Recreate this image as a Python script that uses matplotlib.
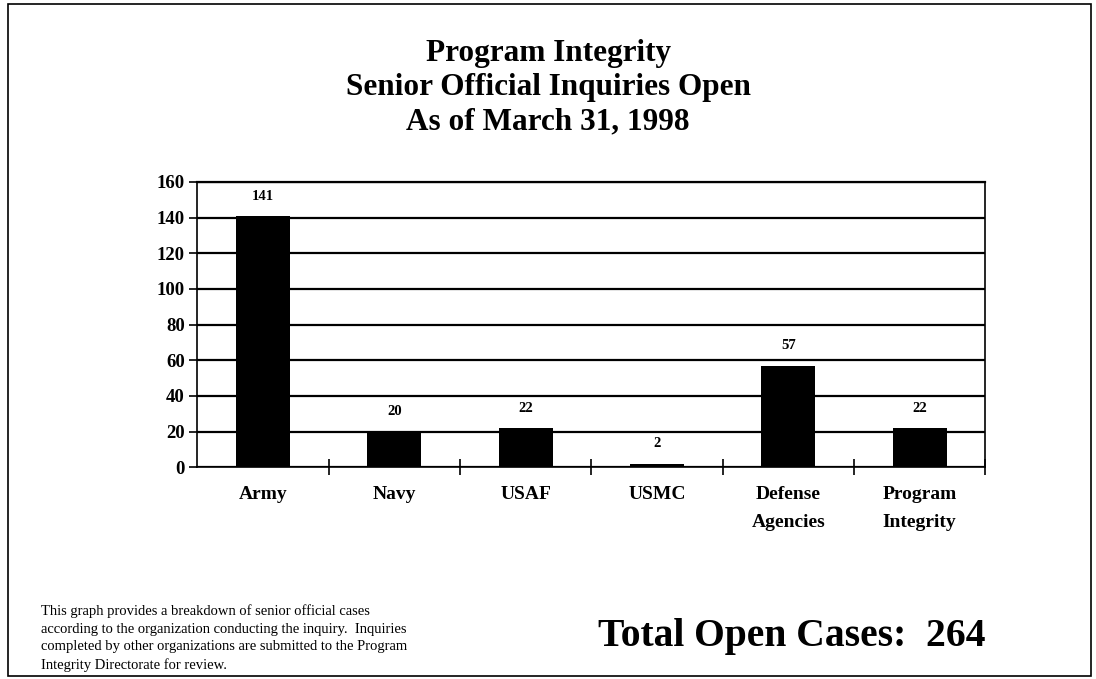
import matplotlib.pyplot as plt
from matplotlib.patches import Rectangle

categories = ["Army", "Navy", "USAF", "USMC", "Defense\nAgencies", "Program\nIntegrity"]
open_cases = [141, 20, 22, 2, 57, 22]
total_cases = 264

plt.rcParams["font.family"] = ["Liberation Serif", "DejaVu Serif"]

fig = plt.figure(figsize=(10.96, 6.79), dpi=100)
fig.patches.append(Rectangle((0.007, 0.004), 0.988, 0.99, transform=fig.transFigure,
                             fill=False, edgecolor="black", linewidth=1.2))

fig.text(0.5, 0.871, "Program Integrity\nSenior Official Inquiries Open\nAs of March 31, 1998",
         ha="center", va="center", fontsize=22.5, fontweight="bold", linespacing=1.22)

ax = fig.add_axes([0.18, 0.312, 0.719, 0.42])
x = range(len(categories))
ax.bar(x, open_cases, width=0.41, color="black", zorder=3)
for xi, v in zip(x, open_cases):
    ax.text(xi, v + 11, str(v), ha="center", va="center", fontsize=10.5, fontweight="bold")

ax.set_xlim(-0.5, len(categories) - 0.5)
ax.set_ylim(0, 160)
ax.set_yticks(range(0, 161, 20))
ax.tick_params(axis="y", labelsize=13.5, length=6, width=1.2, direction="out", pad=3)
for lab in ax.get_yticklabels():
    lab.set_fontweight("bold")

ax.set_xticks([i + 0.5 for i in range(len(categories))])
ax.set_xticklabels([])
ax.tick_params(axis="x", length=12, width=1.2, direction="inout")
for xi, name in zip(x, categories):
    ax.text(xi, -10.5, name, ha="center", va="top", fontsize=14, fontweight="bold",
            linespacing=1.85)

ax.grid(axis="y", color="black", linewidth=1.6, zorder=1)
ax.axhline(160, color="black", linewidth=1.6, clip_on=False, zorder=1)
ax.spines["top"].set_visible(False)
for s in ["left", "right", "bottom"]:
    ax.spines[s].set_linewidth(1.2)

fig.text(0.037, 0.06,
         "This graph provides a breakdown of senior official cases\n"
         "according to the organization conducting the inquiry.  Inquiries\n"
         "completed by other organizations are submitted to the Program\n"
         "Integrity Directorate for review.",
         ha="left", va="center", fontsize=10.5, linespacing=1.45)

fig.text(0.722, 0.062, "Total Open Cases:  %d" % total_cases, ha="center", va="center",
         fontsize=28.5, fontweight="bold")

plt.savefig("out.png", dpi=100)
